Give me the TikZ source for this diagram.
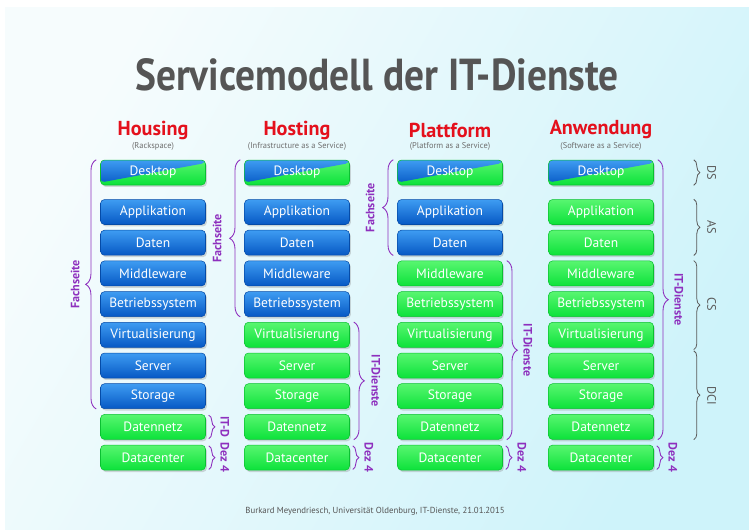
\documentclass[tikz,border=0pt]{standalone}
\usepackage{fontspec}
\setmainfont{PT Sans}
\usetikzlibrary{positioning,calc,shadows,decorations.pathreplacing}

\definecolor{titlegray}{RGB}{85,85,85}
\definecolor{headred}{RGB}{228,16,28}
\definecolor{subgray}{RGB}{110,110,110}
\definecolor{bracepurple}{RGB}{142,48,190}
\definecolor{bracegray}{RGB}{90,90,90}
\definecolor{bluetop}{RGB}{62,156,242}
\definecolor{bluebot}{RGB}{6,88,196}
\definecolor{greentop}{RGB}{88,246,112}
\definecolor{greenbot}{RGB}{12,226,58}
\definecolor{bgleft}{RGB}{246,252,253}
\definecolor{bgright}{RGB}{206,243,250}

\tikzset{
  layer/.style={rounded corners=0.08cm, minimum width=2.1cm, minimum height=0.5cm,
    inner sep=0pt, text=white, font=\fontsize{7.7}{8}\selectfont, line width=0.3pt,
    drop shadow={opacity=0.3, shadow xshift=0.8pt, shadow yshift=-1.1pt}},
  bluebox/.style={layer, top color=bluetop, bottom color=bluebot, draw=bluebot!85!black},
  greenbox/.style={layer, top color=greentop, bottom color=greenbot, draw=greenbot!85!black},
  deskbox/.style={greenbox, path picture={
      \shade[top color=bluetop, bottom color=bluebot]
        (path picture bounding box.north west) -- (path picture bounding box.north east)
        -- ($(path picture bounding box.north east)!0.12!(path picture bounding box.south east)$)
        -- ($(path picture bounding box.north west)!0.9!(path picture bounding box.south west)$)
        -- cycle;}},
  headline/.style={text=headred, font=\bfseries\fontsize{11.5}{12}\selectfont},
  subline/.style={text=subgray, font=\fontsize{4.8}{5}\selectfont},
  pbrace/.style={draw=bracepurple, line width=0.5pt, decorate, decoration={brace, amplitude=#1}},
  pbrace/.default=5pt,
  gbrace/.style={draw=bracegray, line width=0.45pt, decorate, decoration={brace, amplitude=3.5pt}},
  plabel/.style={text=bracepurple, font=\bfseries\fontsize{6.9}{7}\selectfont, inner sep=0pt},
  glabel/.style={text=bracegray, font=\fontsize{7}{7}\selectfont, inner sep=0pt}
}

\begin{document}
\begin{tikzpicture}[x=0.02cm, y=-0.02cm]
  \useasboundingbox (0,0) rectangle (749,529);
  % background
  \fill[white] (0,0) rectangle (749,529);
  \shade[left color=bgleft, right color=bgright, shading angle=60] (5,7) rectangle (749,529);

  % title and column heads
  \node[text=titlegray, font=\bfseries\fontsize{25.5}{26}\selectfont] (title) at (377,75)
    {\scalebox{0.88}[1]{Servicemodell der IT-Dienste}};

  \foreach \col/\cx/\head/\sub in {hou/153/Housing/Rackspace,
      hos/297/Hosting/Infrastructure as a Service,
      pla/450/Plattform/Platform as a Service,
      anw/601/Anwendung/Software as a Service} {
    \node[headline] (\col-head) at (\cx,130) {\head};
    \node[subline] (\col-sub) at (\cx,146) {(\sub)};
  }

  % layer stacks: \nb = number of blue layers below Desktop
  \foreach \col/\cx/\nb in {hou/153/7, hos/297/4, pla/450/2, anw/601/0} {
    \node[deskbox] (\col-0) at (\cx,172.5) {Desktop};
    \foreach \lab [count=\i] in {Applikation, Daten, Middleware, Betriebssystem,
        Virtualisierung, Server, Storage, Datennetz, Datacenter} {
      \ifnum\i>\nb\def\boxstyle{greenbox}\else\def\boxstyle{bluebox}\fi
      \node[\boxstyle] (\col-\i) at (\cx,{212+30.7*(\i-1)}) {\lab};
    }
  }

  % Housing braces
  \draw[pbrace=6pt] ($(hou-7.south west)+(-4,0)$) -- ($(hou-0.north west)+(-4,0)$);
  \node[plabel, rotate=90] (hou-fach) at ($(hou-7.south west)!0.5!(hou-0.north west)+(-25,0)$) {Fachseite};
  \draw[pbrace=3.5pt] ($(hou-8.north east)+(3,1)$) -- ($(hou-8.south east)+(3,-1)$);
  \node[plabel, rotate=-90] (hou-itd) at ($(hou-8.east)+(19,0)$) {IT-D};
  \draw[pbrace=3.5pt] ($(hou-9.north east)+(3,1)$) -- ($(hou-9.south east)+(3,-1)$);
  \node[plabel, rotate=-90] (hou-dez) at ($(hou-9.east)+(19,0)$) {Dez 4};

  % Hosting braces
  \draw[pbrace=6pt] ($(hos-4.south west)+(-4,0)$) -- ($(hos-0.north west)+(-4,0)$);
  \node[plabel, rotate=90] (hos-fach) at ($(hos-4.south west)!0.5!(hos-0.north west)+(-27,0)$) {Fachseite};
  \draw[pbrace=6pt] ($(hos-5.north east)+(4,0)$) -- ($(hos-8.south east)+(4,0)$);
  \node[plabel, rotate=-90] (hos-itd) at ($(hos-5.north east)!0.5!(hos-8.south east)+(26,0)$) {IT-Dienste};
  \draw[pbrace=3.5pt] ($(hos-9.north east)+(3,1)$) -- ($(hos-9.south east)+(3,-1)$);
  \node[plabel, rotate=-90] (hos-dez) at ($(hos-9.east)+(19,0)$) {Dez 4};

  % Plattform braces
  \draw[pbrace=6pt] ($(pla-2.south west)+(-4,0)$) -- ($(pla-0.north west)+(-4,0)$);
  \node[plabel, rotate=90] (pla-fach) at ($(pla-2.south west)!0.5!(pla-0.north west)+(-27,0)$) {Fachseite};
  \draw[pbrace=6pt] ($(pla-3.north east)+(4,0)$) -- ($(pla-8.south east)+(4,0)$);
  \node[plabel, rotate=-90] (pla-itd) at ($(pla-3.north east)!0.5!(pla-8.south east)+(25,0)$) {IT-Dienste};
  \draw[pbrace=3.5pt] ($(pla-9.north east)+(3,1)$) -- ($(pla-9.south east)+(3,-1)$);
  \node[plabel, rotate=-90] (pla-dez) at ($(pla-9.east)+(19,0)$) {Dez 4};

  % Anwendung braces
  \draw[pbrace=6pt] ($(anw-0.north east)+(4,0)$) -- ($(anw-8.south east)+(4,0)$);
  \node[plabel, rotate=-90] (anw-itd) at ($(anw-0.north east)!0.5!(anw-8.south east)+(25,0)$) {IT-Dienste};
  \draw[pbrace=3.5pt] ($(anw-9.north east)+(3,1)$) -- ($(anw-9.south east)+(3,-1)$);
  \node[plabel, rotate=-90] (anw-dez) at ($(anw-9.east)+(19,0)$) {Dez 4};

  % service classes
  \draw[gbrace] ($(anw-0.north east)+(40,0)$) -- ($(anw-0.south east)+(40,0)$);
  \node[glabel, rotate=-90] (ds) at ($(anw-0.east)+(58,0)$) {DS};
  \draw[gbrace] ($(anw-1.north east)+(40,0)$) -- ($(anw-2.south east)+(40,0)$);
  \node[glabel, rotate=-90] (as) at ($(anw-1.north east)!0.5!(anw-2.south east)+(58,0)$) {AS};
  \draw[gbrace] ($(anw-3.north east)+(40,0)$) -- ($(anw-5.south east)+(40,2)$);
  \node[glabel, rotate=-90] (cs) at ($(anw-3.north east)!0.5!(anw-5.south east)+(58,0)$) {CS};
  \draw[gbrace] ($(anw-6.north east)+(40,-2)$) -- ($(anw-8.south east)+(40,0)$);
  \node[glabel, rotate=-90] (dci) at ($(anw-6.north east)!0.5!(anw-8.south east)+(58,0)$) {DCI};

  % footer
  \node[text=titlegray, font=\fontsize{5}{6}\selectfont] (footer) at (375,511)
    {Burkard Meyendriesch, Universität Oldenburg, IT-Dienste, 21.01.2015};
\end{tikzpicture}
\end{document}
